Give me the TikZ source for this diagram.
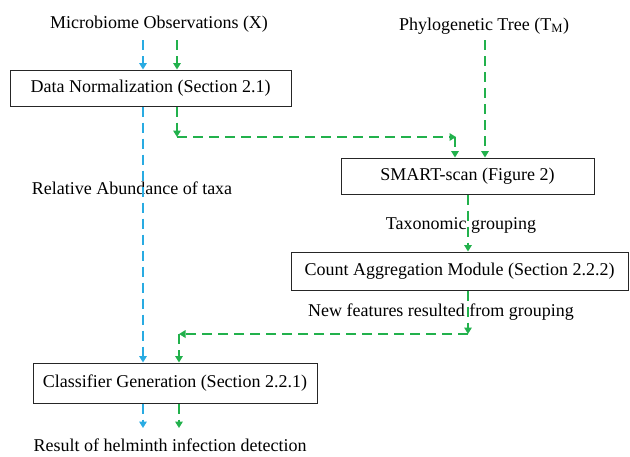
\documentclass[tikz,border=0pt]{standalone}
\usepackage{fontspec}
\setmainfont{Liberation Serif}
\usetikzlibrary{arrows.meta}
\definecolor{cblue}{RGB}{41,171,226}
\definecolor{cgreen}{RGB}{34,177,76}
\begin{document}
\begin{tikzpicture}[x=1pt,y=-1pt,
  every node/.style={font=\fontsize{18}{20}\selectfont, inner sep=0pt},
  box/.style={draw=black!85, line width=1pt, anchor=center},
  flow/.style={line width=2.6pt, dash pattern=on 10pt off 6pt, -{Triangle[length=6.5pt,width=7.5pt]}},
  bflow/.style={flow, cblue},
  gflow/.style={flow, cgreen}]
\useasboundingbox (0,0) rectangle (630,456);
% texts
\node (obs) at (159,24) {Microbiome Observations (X)};
\node (tree) at (484,26) {Phylogenetic Tree (T\textsubscript{M})};
\node (rel) at (132,188) {Relative Abundance of taxa};
\node (tax) at (461,225) {Taxonomic grouping};
\node (newf) at (441,312) {New features resulted from grouping};
\node (res) at (170,445) {Result of helminth infection detection};
% boxes
\node[box, minimum width=281pt, minimum height=36pt] (dn) at (150.5,88) {Data Normalization (Section 2.1)};
\node[box, minimum width=253pt, minimum height=36pt] (smart) at (467.5,176) {SMART-scan (Figure 2)};
\node[box, minimum width=337pt, minimum height=38pt] (count) at (459.5,271) {Count Aggregation Module (Section 2.2.2)};
\node[box, minimum width=284pt, minimum height=40pt] (cls) at (175,383) {Classifier Generation (Section 2.2.1)};
% coordinates
\coordinate (b0) at (143,40);
\coordinate (g0) at (177,40);
\coordinate (p0) at (485,40);
\coordinate (c1) at (177,137);
\coordinate (c2) at (455,137);
\coordinate (c3) at (468,334);
\coordinate (c4) at (179,334);
\coordinate (bend) at (143,428);
\coordinate (gend) at (179,428);
% blue flow
\draw[bflow] (b0) -- (b0 |- dn.north);
\draw[bflow] (b0 |- dn.south) -- (b0 |- cls.north);
\draw[bflow] (b0 |- cls.south) -- (bend);
% green flow
\draw[gflow] (g0) -- (g0 |- dn.north);
\draw[gflow] (g0 |- dn.south) -- (c1);
\draw[gflow] (c1) -- ([xshift=1pt]c2);
\draw[gflow] (c2) -- (c2 |- smart.north);
\draw[gflow] (p0) -- (p0 |- smart.north);
\draw[gflow] (c3 |- smart.south) -- (c3 |- count.north);
\draw[gflow] (c3 |- count.south) -- (c3);
\draw[gflow] (c3) -- (c4);
\draw[gflow] (c4) -- (c4 |- cls.north);
\draw[gflow] (c4 |- cls.south) -- (gend);
\end{tikzpicture}
\end{document}
